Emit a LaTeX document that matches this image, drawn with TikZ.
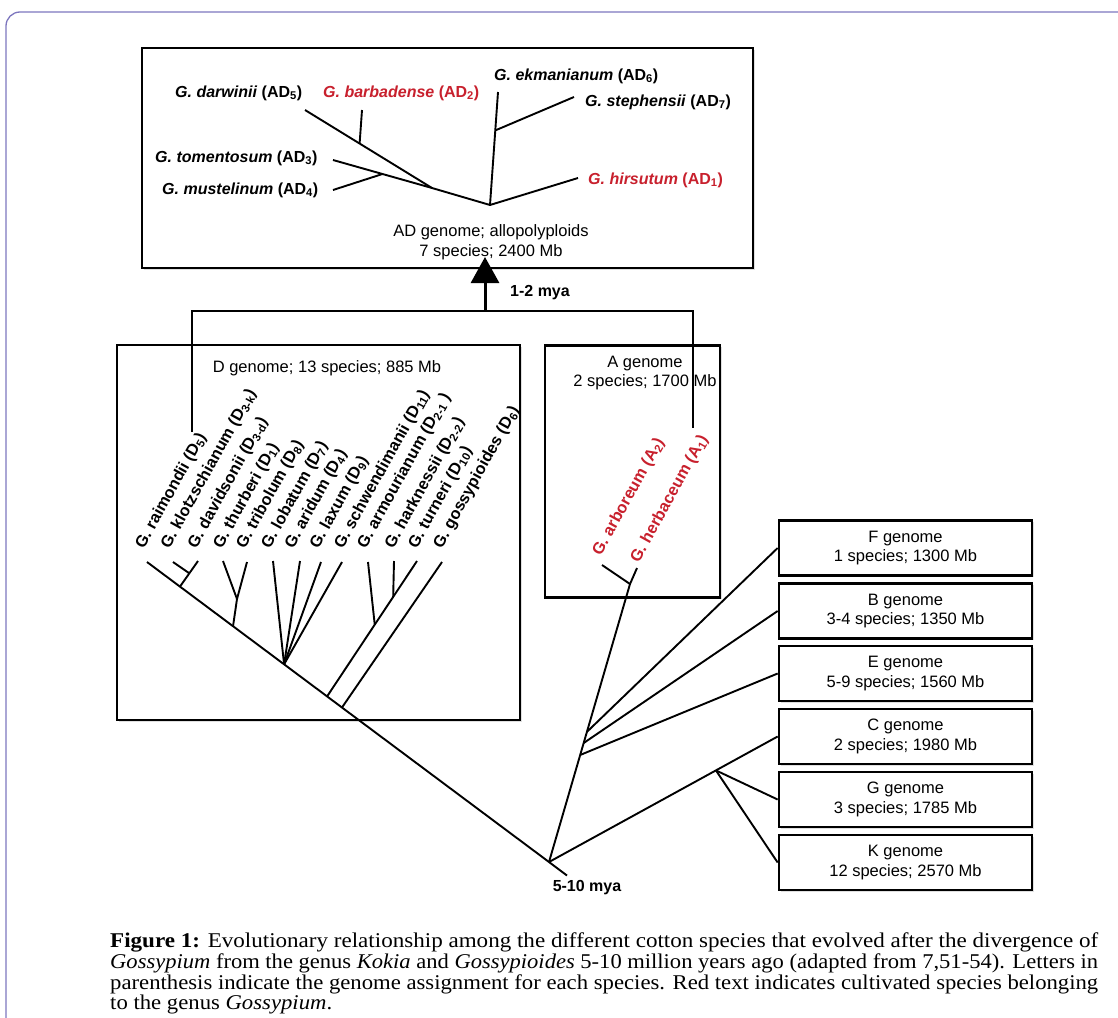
\documentclass[tikz,border=0pt]{standalone}
\usepackage{fontspec}
\setmainfont{Liberation Sans}
\newfontfamily\capfont{Liberation Serif}
\usetikzlibrary{arrows.meta,calc,shadows}
\definecolor{cotred}{RGB}{200,32,45}
\definecolor{framecol}{RGB}{125,118,190}
\newsavebox{\caplinebox}
\newcommand{\fitline}[2]{\sbox{\caplinebox}{#2}\pgfmathsetmacro{\fitratio}{#1/\the\wd\caplinebox}\xdef\lastfit{\fitratio}\scalebox{\fitratio}[1]{\usebox{\caplinebox}}}
\begin{document}
\begin{tikzpicture}[x=1pt,y=-1pt,
  tree/.style={line width=1.9pt},
  con/.style={line width=2pt},
  gbox/.style={draw=black, line width=2.7pt, fill=white, inner sep=0pt,
    drop shadow={shadow xshift=1.5pt,shadow yshift=-1.5pt,opacity=0.25}},
  rbox/.style={gbox, minimum width=253pt, minimum height=55pt, align=center,
    font=\fontsize{16.5}{19.5}\selectfont},
  btxt/.style={align=center, inner sep=0pt, font=\fontsize{16.5}{19.5}\selectfont},
  adl/.style={anchor=west, inner sep=0pt, font=\fontsize{16}{19}\selectfont\bfseries},
  dl/.style={anchor=west, inner sep=0pt, rotate=61, font=\fontsize{16.3}{19}\selectfont\bfseries},
  mya/.style={inner sep=0pt, font=\fontsize{16}{19}\selectfont\bfseries},
  captxt/.style={anchor=base west, inner sep=0pt, font=\capfont\fontsize{21}{21}\selectfont}]
\useasboundingbox (0,0) rectangle (1118,1017);
% outer frame
\begin{scope}
\clip (0,0) rectangle (1118,1017);
\draw[framecol, line width=1.3pt, rounded corners=14pt] (6,1060) |- (1160,12);
\end{scope}
% boxes
\node[gbox, minimum width=611pt, minimum height=220pt] (adbox) at (447.5,158) {};
\node[gbox, minimum width=403pt, minimum height=375pt] (dbox) at (318.5,532.5) {};
\node[gbox, minimum width=175pt, minimum height=252pt] (abox) at (632.5,471.5) {};
\node[rbox] (boxF) at (905.5,548) {F genome\\1 species; 1300 Mb};
\node[rbox] (boxB) at (905.5,611) {B genome\\3-4 species; 1350 Mb};
\node[rbox] (boxE) at (905.5,673.5) {E genome\\5-9 species; 1560 Mb};
\node[rbox] (boxC) at (905.5,736.5) {C genome\\2 species; 1980 Mb};
\node[rbox] (boxG) at (905.5,799.5) {G genome\\3 species; 1785 Mb};
\node[rbox] (boxK) at (905.5,862.5) {K genome\\12 species; 2570 Mb};
% box titles
\node[btxt] (adtxt) at (491,242) {AD genome; allopolyploids\\7 species; 2400 Mb};
\node[btxt] (dtxt) at (327,368) {D genome; 13 species; 885 Mb};
\node[btxt] (atxt) at (645,373) {A genome\\2 species; 1700 Mb};
% AD labels
\node[adl] (ldarw) at (175,93) {\textit{G. darwinii} (AD\textsubscript{5})};
\node[adl, text=cotred] (lbarb) at (323,93) {\textit{G. barbadense} (AD\textsubscript{2})};
\node[adl] (lekm) at (494,76) {\textit{G. ekmanianum} (AD\textsubscript{6})};
\node[adl] (lste) at (585,102) {\textit{G. stephensii} (AD\textsubscript{7})};
\node[adl] (ltom) at (155,158) {\textit{G. tomentosum} (AD\textsubscript{3})};
\node[adl] (lmus) at (162,190) {\textit{G. mustelinum} (AD\textsubscript{4})};
\node[adl, text=cotred] (lhir) at (588,180) {\textit{G. hirsutum} (AD\textsubscript{1})};
% D labels
\node[dl] (ld1) at (140,547.5) {G. raimondii (D\textsubscript{5})};
\node[dl] (ld2) at (165.5,547.5) {G. klotzschianum (D\textsubscript{3-k})};
\node[dl] (ld3) at (192.5,547.5) {G. davidsonii (D\textsubscript{3-d})};
\node[dl] (ld4) at (218,547.5) {G. thurberi (D\textsubscript{1})};
\node[dl] (ld5) at (241,547.5) {G. tribolum (D\textsubscript{8})};
\node[dl] (ld6) at (266,547.5) {G. lobatum (D\textsubscript{7})};
\node[dl] (ld7) at (289.5,547.5) {G. aridum (D\textsubscript{4})};
\node[dl] (ld8) at (314.5,547.5) {G. laxum (D\textsubscript{9})};
\node[dl] (ld9) at (339,547.5) {G. schwendimanii (D\textsubscript{11})};
\node[dl] (ld10) at (362,547.5) {G. armourianum (D\textsubscript{2-1} )};
\node[dl] (ld11) at (389.5,547.5) {G. harknessii (D\textsubscript{2-2})};
\node[dl] (ld12) at (413,547.5) {G. turneri (D\textsubscript{10})};
\node[dl] (ld13) at (438,547.5) {G. gossypioides (D\textsubscript{6})};
% A labels
\node[dl, text=cotred] (la1) at (597,554.5) {G. arboreum (A\textsubscript{2})};
\node[dl, text=cotred] (la2) at (635,561.5) {G. herbaceum (A\textsubscript{1})};
% mya
\node[mya] (mya1) at (540,293) {1-2 mya};
\node[mya] (mya2) at (587,888) {5-10 mya};
% AD tree
\coordinate (adR) at (490,205);
\coordinate (adJ1) at (432,188);
\coordinate (tdarw) at (305,110);
\coordinate (tbarb) at (362,110);
\coordinate (jbarb) at ($(tdarw)!0.43!(adJ1)$);
\coordinate (ttom) at (333,160);
\coordinate (tmus) at (333,190);
\coordinate (jmus) at ($(ttom)!0.5!(adJ1)$);
\coordinate (tekm) at (498,92);
\coordinate (jste) at ($(adR)!0.66!(tekm)$);
\coordinate (tste) at (574,97);
\coordinate (thir) at (578,178);
\draw[tree] (tdarw) -- (adJ1) -- (adR);
\draw[tree] (tbarb) -- (jbarb);
\draw[tree] (ttom) -- (adJ1);
\draw[tree] (tmus) -- (jmus);
\draw[tree] (adR) -- (tekm);
\draw[tree] (jste) -- (tste);
\draw[tree] (adR) -- (thir);
% D tree
\coordinate (root) at (549,862);
\coordinate (rootstub) at (567,875.5);
\coordinate (dt1) at (147,562);
\coordinate (dt2) at (173,562);
\coordinate (dt3) at (198,561);
\coordinate (dt4) at (223,561);
\coordinate (dt5) at (247,562);
\coordinate (dt6) at (273,561);
\coordinate (dt7) at (300,561);
\coordinate (dt8) at (321,562);
\coordinate (dt9) at (342,562);
\coordinate (dt10) at (368,562);
\coordinate (dt11) at (394,561);
\coordinate (dt12) at (417,561);
\coordinate (dt13) at (442,562);
\coordinate (dj1) at ($(dt1)!0.082!(root)$);
\coordinate (kj) at ($(dt3)!0.48!(dj1)$);
\coordinate (dj2) at ($(dt1)!0.214!(root)$);
\coordinate (ttj) at (237,599);
\coordinate (dj3) at ($(dt1)!0.341!(root)$);
\coordinate (dj4) at ($(dt1)!0.448!(root)$);
\coordinate (aj) at ($(dt12)!0.47!(dj4)$);
\coordinate (hj) at ($(dt12)!0.265!(dj4)$);
\coordinate (dj5) at ($(dt1)!0.485!(root)$);
\draw[tree] (dt1) -- (root) -- (rootstub);
\draw[tree] (dt3) -- (dj1);
\draw[tree] (dt2) -- (kj);
\draw[tree] (dt4) -- (ttj);
\draw[tree] (dt5) -- (ttj);
\draw[tree] (ttj) -- (dj2);
\draw[tree] (dt6) -- (dj3);
\draw[tree] (dt7) -- (dj3);
\draw[tree] (dt8) -- (dj3);
\draw[tree] (dt9) -- (dj3);
\draw[tree] (dt12) -- (dj4);
\draw[tree] (dt10) -- (aj);
\draw[tree] (dt11) -- (hj);
\draw[tree] (dt13) -- (dj5);
% A tree
\coordinate (ta1) at (602,565);
\coordinate (ta2) at (637,568);
\coordinate (ajun) at (630,584);
\draw[tree] (ta1) -- (ajun);
\draw[tree] (ta2) -- (ajun) -- (root);
% other genomes
\coordinate (jF) at ($(root)!0.468!(ajun)$);
\coordinate (jB) at ($(root)!0.428!(ajun)$);
\coordinate (jE) at ($(root)!0.385!(ajun)$);
\coordinate (jGK) at ($(root)!0.73!(boxC.west)$);
\draw[tree] (jF) -- (boxF.west);
\draw[tree] (jB) -- (boxB.west);
\draw[tree] (jE) -- (boxE.west);
\draw[tree] (root) -- (boxC.west);
\draw[tree] (jGK) -- (boxG.west);
\draw[tree] (jGK) -- (boxK.west);
% connector to AD
\coordinate (dcon) at (192,432);
\coordinate (acon) at (693,428);
\coordinate (midc) at (485,311);
\coordinate (adtip) at (485,257);
\draw[con] (dcon) |- (midc) -| (acon);
\draw[line width=3pt, -{Triangle[width=28pt,length=26pt]}] (midc) -- (adtip);
% caption
\node[captxt] (cap1) at (110,947) {\fitline{988}{\textbf{Figure 1:} Evolutionary relationship among the different cotton species that evolved after the divergence of}};
\node[captxt] (cap2) at (110,968) {\fitline{988}{\textit{Gossypium} from the genus \textit{Kokia} and \textit{Gossypioides} 5-10 million years ago (adapted from 7,51-54). Letters in}};
\node[captxt] (cap3) at (110,989) {\fitline{988}{parenthesis indicate the genome assignment for each species. Red text indicates cultivated species belonging}};
\node[captxt] (cap4) at (110,1009) {\scalebox{\lastfit}[1]{to the genus \textit{Gossypium}.}};
\end{tikzpicture}
\end{document}
